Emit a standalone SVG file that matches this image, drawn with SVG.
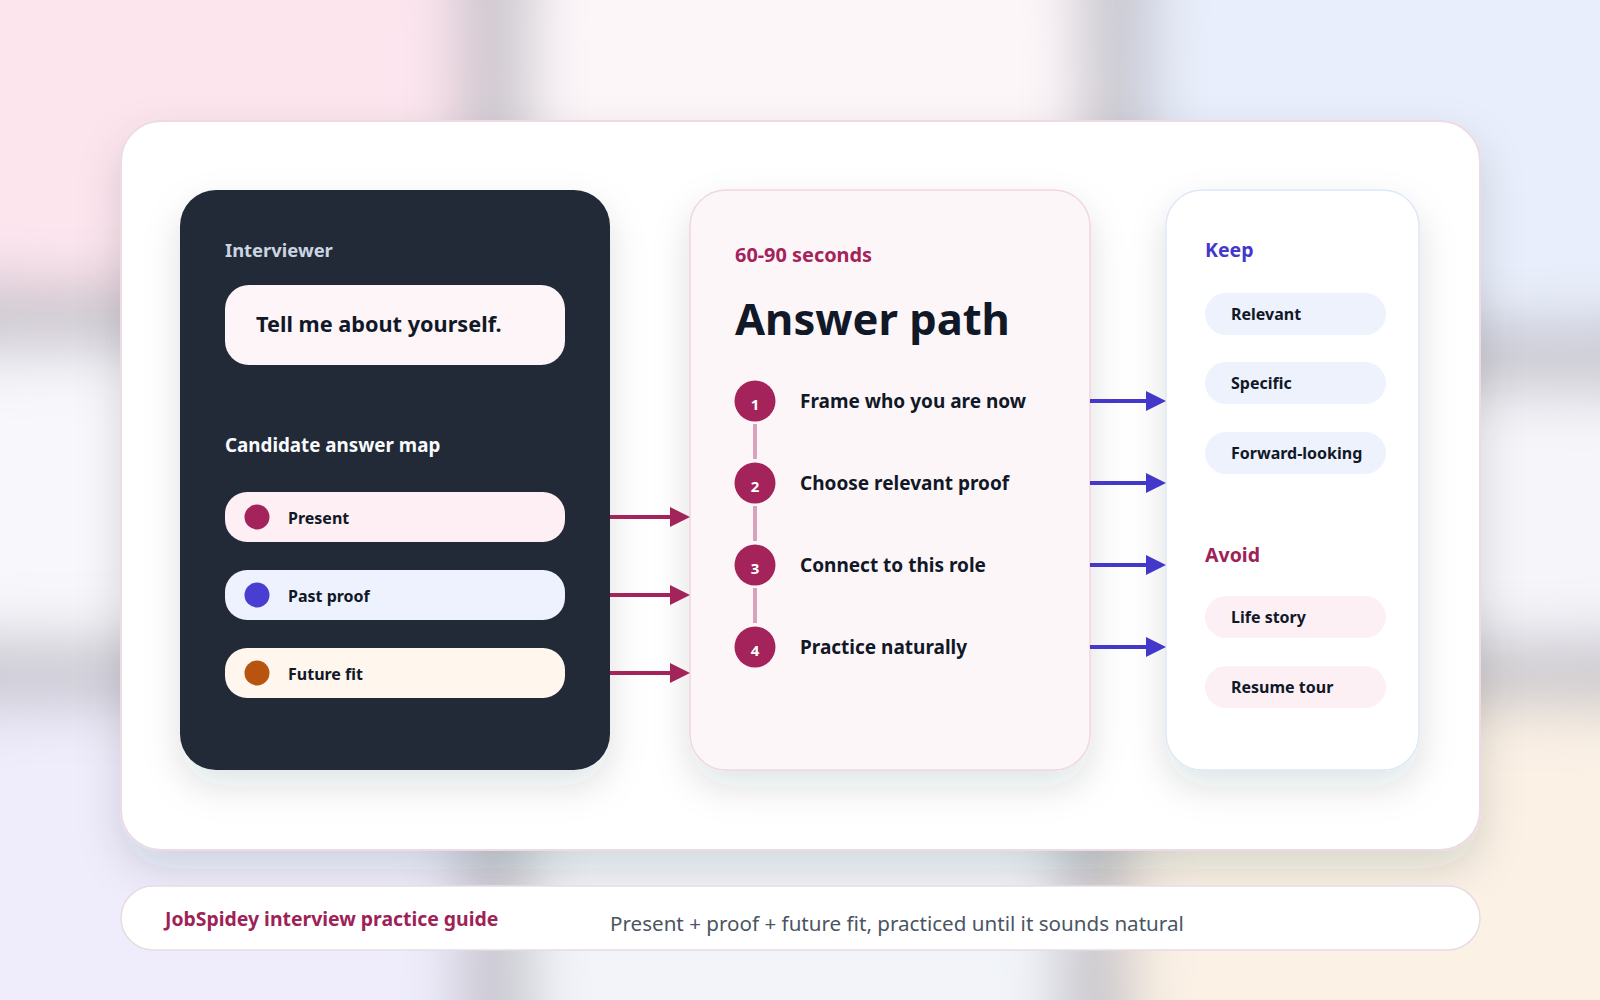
<svg xmlns="http://www.w3.org/2000/svg" width="1600" height="1000" viewBox="0 0 1600 1000">
  <defs>
    <filter id="bgblur" filterUnits="userSpaceOnUse" x="-200" y="-200" width="2000" height="1400">
      <feGaussianBlur stdDeviation="32"/>
    </filter>
    <filter id="cardShadow" x="-10%" y="-10%" width="120%" height="130%">
      <feDropShadow dx="0" dy="18" stdDeviation="22" flood-color="#1f2937" flood-opacity="0.14"/>
    </filter>
    <filter id="panelShadow" x="-20%" y="-20%" width="140%" height="140%">
      <feDropShadow dx="0" dy="16" stdDeviation="18" flood-color="#1f2937" flood-opacity="0.13"/>
    </filter>
    <marker id="ahPink" viewBox="0 0 20 20" refX="2" refY="10" markerWidth="20" markerHeight="20" markerUnits="userSpaceOnUse" orient="auto">
      <path d="M0,0 L20,10 L0,20 z" fill="#a3245a"/>
    </marker>
    <marker id="ahBlue" viewBox="0 0 20 20" refX="2" refY="10" markerWidth="20" markerHeight="20" markerUnits="userSpaceOnUse" orient="auto">
      <path d="M0,0 L20,10 L0,20 z" fill="#4338ca"/>
    </marker>
    <style>
      text { font-family: "Noto Sans", "Open Sans", "Liberation Sans", sans-serif; }
      .b { font-weight: 700; }
      .pillText { font-size: 16px; font-weight: 700; fill: #111827; }
      .chipText { font-size: 16px; font-weight: 700; fill: #111827; }
      .stepText { font-size: 19px; font-weight: 700; fill: #111827; }
      .stepNum { font-size: 15px; font-weight: 700; fill: #ffffff; text-anchor: middle; }
      .stepDot { fill: #a3235a; }
      .arrowPink { stroke: #a3245a; stroke-width: 4; fill: none; }
      .arrowBlue { stroke: #4338ca; stroke-width: 4; fill: none; }
      .keepPill { fill: #eef2fd; }
      .avoidPill { fill: #fdf0f5; }
    </style>
  </defs>

  <!-- background -->
  <g id="background">
    <rect x="0" y="0" width="1600" height="1000" fill="#bcbac2"/>
    <g filter="url(#bgblur)">
      <rect x="0" y="0" width="1600" height="1000" fill="#bcbac2"/>
      <rect x="-150" y="-150" width="615" height="440" fill="#fde5ee"/>
      <rect x="525" y="-150" width="560" height="440" fill="#fdf6f9"/>
      <rect x="1145" y="-150" width="605" height="480" fill="#e8eefb"/>
      <rect x="-150" y="345" width="615" height="300" fill="#f8f7fc"/>
      <rect x="525" y="345" width="560" height="300" fill="#f7f6fa"/>
      <rect x="1145" y="385" width="605" height="260" fill="#f6f5fa"/>
      <rect x="-150" y="700" width="615" height="450" fill="#efedfc"/>
      <rect x="525" y="700" width="540" height="450" fill="#f2f4f9"/>
      <rect x="1125" y="700" width="625" height="450" fill="#fbf1e5"/>
    </g>
  </g>

  <!-- main card -->
  <g id="main-card">
    <rect x="121" y="121" width="1359" height="729" rx="40" fill="#ffffff" stroke="#ecdbe4" stroke-width="2" filter="url(#cardShadow)"/>
  </g>

  <!-- left panel -->
  <g id="interviewer-panel">
    <rect x="180" y="190" width="430" height="580" rx="36" fill="#202938" filter="url(#panelShadow)"/>
    <text x="225" y="257" font-size="18.4" class="b" fill="#cbd5e1">Interviewer</text>
    <g id="question">
      <rect x="225" y="285" width="340" height="80" rx="24" fill="#fdf5f8"/>
      <text x="256" y="332" font-size="21.7" class="b" fill="#111827">Tell me about yourself.</text>
    </g>
    <text x="225" y="452" font-size="18.8" class="b" fill="#f8fafc">Candidate answer map</text>
    <g id="pill-present">
      <rect x="225" y="492" width="340" height="50" rx="22" fill="#fdeff4"/>
      <circle cx="257" cy="517" r="12.5" fill="#a3235a"/>
      <text x="288" y="523.5" class="pillText">Present</text>
    </g>
    <g id="pill-past">
      <rect x="225" y="570" width="340" height="50" rx="22" fill="#eef2fe"/>
      <circle cx="257" cy="595" r="12.5" fill="#4a3dd1"/>
      <text x="288" y="601.5" class="pillText">Past proof</text>
    </g>
    <g id="pill-future">
      <rect x="225" y="648" width="340" height="50" rx="22" fill="#fff6ee"/>
      <circle cx="257" cy="673" r="12.5" fill="#b8540f"/>
      <text x="288" y="679.5" class="pillText">Future fit</text>
    </g>
  </g>

  <!-- middle panel -->
  <g id="answer-path">
    <rect x="690" y="190" width="400" height="580" rx="36" fill="#fdf6f9" stroke="#f1d5e0" stroke-width="1.5" filter="url(#panelShadow)"/>
    <text x="735" y="262" font-size="19.9" class="b" fill="#a3235a">60-90 seconds</text>
    <text x="735" y="335" font-size="43.5" class="b" fill="#111827">Answer path</text>
    <g id="step-lines" stroke="#d8a2bb" stroke-width="4">
      <line x1="755" y1="424" x2="755" y2="459"/>
      <line x1="755" y1="506" x2="755" y2="541"/>
      <line x1="755" y1="588" x2="755" y2="623"/>
    </g>
    <g id="step-1">
      <circle cx="755" cy="401" r="20.5" class="stepDot"/>
      <text x="755" y="410" class="stepNum">1</text>
      <text x="800" y="408" class="stepText">Frame who you are now</text>
    </g>
    <g id="step-2">
      <circle cx="755" cy="483" r="20.5" class="stepDot"/>
      <text x="755" y="492" class="stepNum">2</text>
      <text x="800" y="490" class="stepText">Choose relevant proof</text>
    </g>
    <g id="step-3">
      <circle cx="755" cy="565" r="20.5" class="stepDot"/>
      <text x="755" y="574" class="stepNum">3</text>
      <text x="800" y="572" class="stepText">Connect to this role</text>
    </g>
    <g id="step-4">
      <circle cx="755" cy="647" r="20.5" class="stepDot"/>
      <text x="755" y="656" class="stepNum">4</text>
      <text x="800" y="654" class="stepText">Practice naturally</text>
    </g>
  </g>

  <!-- right panel -->
  <g id="keep-avoid">
    <rect x="1166" y="190" width="253" height="580" rx="36" fill="#ffffff" stroke="#dce8f8" stroke-width="1.5" filter="url(#panelShadow)"/>
    <text x="1205" y="257" font-size="19.5" class="b" fill="#4338ca">Keep</text>
    <g id="keep-relevant">
      <rect x="1205" y="293" width="181" height="42" rx="21" class="keepPill"/>
      <text x="1231" y="320" class="chipText">Relevant</text>
    </g>
    <g id="keep-specific">
      <rect x="1205" y="362" width="181" height="42" rx="21" class="keepPill"/>
      <text x="1231" y="389" class="chipText">Specific</text>
    </g>
    <g id="keep-forward">
      <rect x="1205" y="432" width="181" height="42" rx="21" class="keepPill"/>
      <text x="1231" y="459" class="chipText">Forward-looking</text>
    </g>
    <text x="1205" y="562" font-size="19.5" class="b" fill="#9d2257">Avoid</text>
    <g id="avoid-life">
      <rect x="1205" y="596" width="181" height="42" rx="21" class="avoidPill"/>
      <text x="1231" y="623" class="chipText">Life story</text>
    </g>
    <g id="avoid-resume">
      <rect x="1205" y="666" width="181" height="42" rx="21" class="avoidPill"/>
      <text x="1231" y="693" class="chipText">Resume tour</text>
    </g>
  </g>

  <!-- connectors -->
  <g id="connectors">
    <line x1="610" y1="517" x2="672" y2="517" class="arrowPink" marker-end="url(#ahPink)"/>
    <line x1="610" y1="595" x2="672" y2="595" class="arrowPink" marker-end="url(#ahPink)"/>
    <line x1="610" y1="673" x2="672" y2="673" class="arrowPink" marker-end="url(#ahPink)"/>
    <line x1="1090" y1="401" x2="1148" y2="401" class="arrowBlue" marker-end="url(#ahBlue)"/>
    <line x1="1090" y1="483" x2="1148" y2="483" class="arrowBlue" marker-end="url(#ahBlue)"/>
    <line x1="1090" y1="565" x2="1148" y2="565" class="arrowBlue" marker-end="url(#ahBlue)"/>
    <line x1="1090" y1="647" x2="1148" y2="647" class="arrowBlue" marker-end="url(#ahBlue)"/>
  </g>

  <!-- footer -->
  <g id="footer">
    <rect x="121" y="886" width="1359" height="64" rx="32" fill="#ffffff" stroke="#e8dbe3" stroke-width="1.5"/>
    <text x="165" y="926" font-size="19.4" class="b" fill="#9d2257">JobSpidey interview practice guide</text>
    <text x="610" y="931" font-size="20.6" fill="#4b5563">Present + proof + future fit, practiced until it sounds natural</text>
  </g>
</svg>
